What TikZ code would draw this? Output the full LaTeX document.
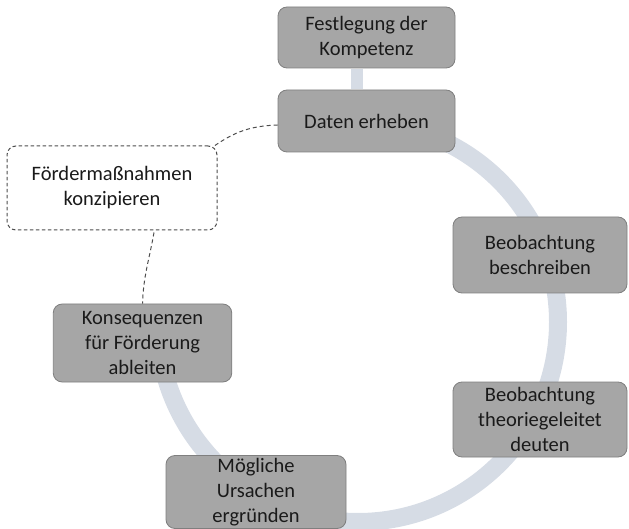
\documentclass[tikz,border=0pt]{standalone}
\usepackage{fontspec}
\setmainfont{Carlito}
\definecolor{ringblue}{HTML}{D6DCE5}
\definecolor{boxfill}{HTML}{A6A6A6}
\definecolor{boxline}{HTML}{7F7F7F}
\definecolor{dashline}{HTML}{4D4D4D}
\definecolor{txt}{HTML}{1A1A1A}
\begin{document}
\begin{tikzpicture}[x=1pt,y=1pt,
  stepbox/.style={rectangle, rounded corners=9pt, fill=boxfill, draw=boxline,
    line width=0.8pt, align=center, inner sep=0pt, text=txt,
    font=\fontsize{20.5}{25}\selectfont},
  ideabox/.style={stepbox, fill=white, draw=dashline, line width=1pt,
    dash pattern=on 3.5pt off 2.5pt},
  cycle/.style={draw=ringblue, line width=18pt},
  stem/.style={draw=ringblue, line width=12pt},
  link/.style={draw=dashline, line width=1pt, dash pattern=on 4pt off 3pt}]
\useasboundingbox (0,0) rectangle (629,-529);

% the cycle arc behind the steps, running clockwise from the top to the left
\coordinate (ctr) at (358,-322);
\draw[cycle] (ctr) ++(90:200) arc[start angle=90, end angle=-180, radius=200];

% steps of the cycle
\node[stepbox, minimum width=177pt, minimum height=61pt] (fest) at (366.5,-37.5) {Festlegung der\\Kompetenz};
\node[stepbox, minimum width=177pt, minimum height=62pt] (daten) at (366.5,-121) {Daten erheben};
\node[stepbox, minimum width=174pt, minimum height=76pt] (beschr) at (540,-255) {Beobachtung\\beschreiben};
\node[stepbox, minimum width=174pt, minimum height=75pt] (deuten) at (540,-419.5) {Beobachtung\\theoriegeleitet\\deuten};
\node[stepbox, minimum width=180pt, minimum height=73pt] (moegl) at (256,-492) {Mögliche\\Ursachen\\ergründen};
\node[stepbox, minimum width=178.5pt, minimum height=78pt] (konseq) at (142.5,-343) {Konsequenzen\\für Förderung\\ableiten};
\node[ideabox, minimum width=210pt, minimum height=84pt] (foerder) at (112,-188) {Fördermaßnahmen\\konzipieren};

% stem joining the first step to the cycle
\draw[stem] ([xshift=-9.5pt,yshift=-0.4pt]fest.south) -- ([xshift=-9.5pt,yshift=0.4pt]daten.north);

% dashed side links
\draw[link] ([yshift=-4pt]daten.west) to[out=182,in=35] ([xshift=-4pt,yshift=-1pt]foerder.north east);
\draw[link] ([xshift=42pt,yshift=-2pt]foerder.south) to[out=-100,in=88] (konseq.north);
\end{tikzpicture}
\end{document}
